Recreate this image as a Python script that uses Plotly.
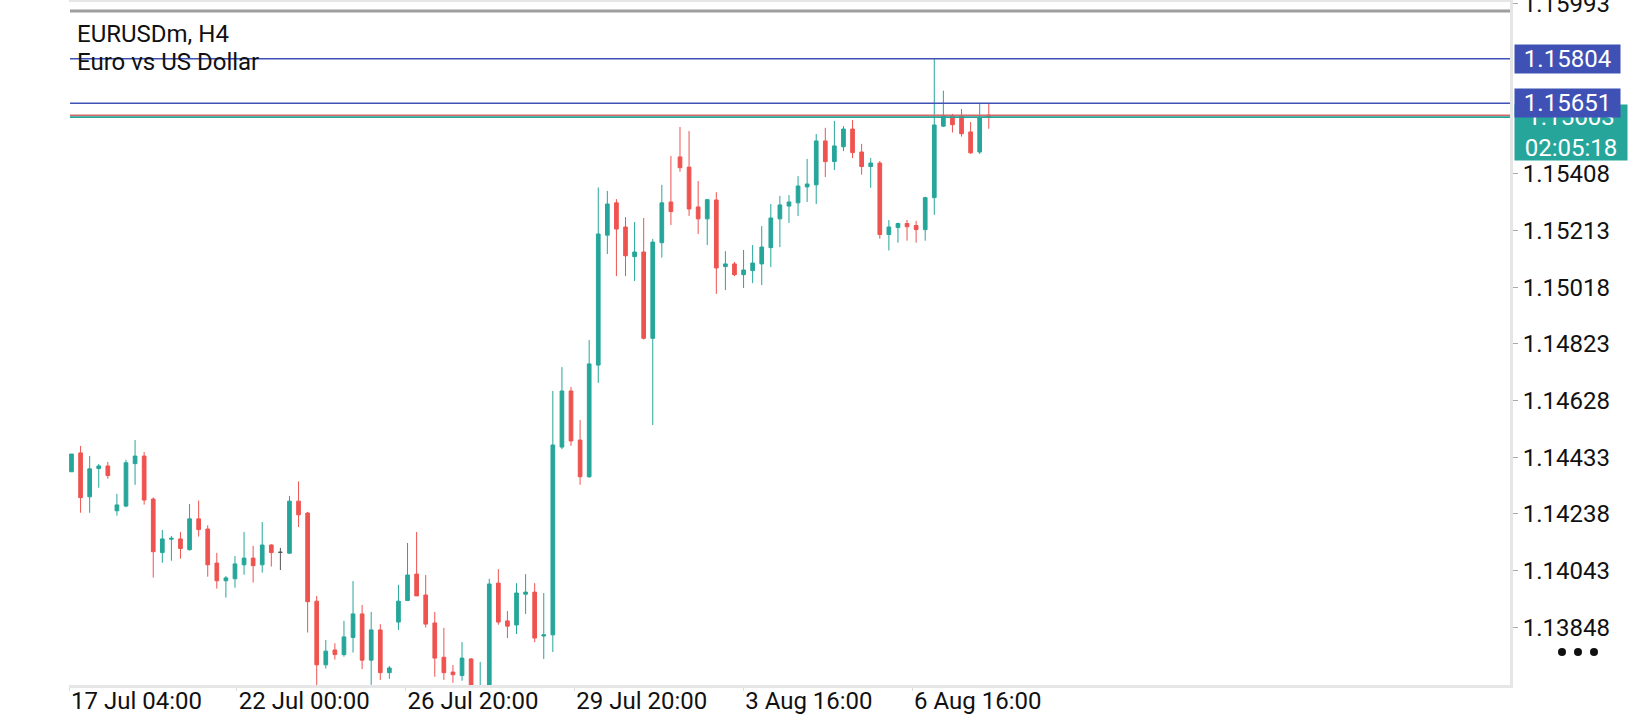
import plotly.graph_objects as go

# ---------------- data ----------------
opens = [1.14383, 1.14448, 1.14297, 1.14394, 1.14403, 1.14249, 1.14265, 1.14411, 1.14437, 1.14289,
         1.14105, 1.14151, 1.14152, 1.14115, 1.14221, 1.14186, 1.14069, 1.14008, 1.14015, 1.14063,
         1.14086, 1.14063, 1.14131, 1.14106, 1.14103, 1.14282, 1.14241, 1.13938, 1.13719, 1.13770,
         1.13754, 1.13813, 1.13894, 1.13735, 1.13839, 1.13692, 1.13866, 1.13940, 1.14031, 1.13959,
         1.13863, 1.13745, 1.13694, 1.13682, 1.13739, 1.13600, 1.13630, 1.14000, 1.13870, 1.13856,
         1.13962, 1.13969, 1.13818, 1.13822, 1.14468, 1.14661, 1.14492, 1.14366, 1.14750, 1.15197,
         1.15308, 1.15225, 1.15123, 1.15139, 1.14842, 1.15171, 1.15311, 1.15466, 1.15431, 1.15294,
         1.15253, 1.15318, 1.15089, 1.15098, 1.15061, 1.15075, 1.15098, 1.15154, 1.15253, 1.15297,
         1.15308, 1.15363, 1.15370, 1.15521, 1.15450, 1.15501, 1.15562, 1.15483, 1.15433, 1.15445,
         1.15199, 1.15223, 1.15237, 1.15230, 1.15216, 1.15326, 1.15572, 1.15609, 1.15609, 1.15552,
         1.15483, 1.15610]
highs = [1.14444, 1.14472, 1.14437, 1.14410, 1.14417, 1.14307, 1.14424, 1.14492, 1.14451, 1.14295,
         1.14183, 1.14162, 1.14176, 1.14272, 1.14284, 1.14199, 1.14104, 1.14024, 1.14093, 1.14176,
         1.14128, 1.14210, 1.14134, 1.14121, 1.14300, 1.14350, 1.14245, 1.13956, 1.13804, 1.13793,
         1.13870, 1.14007, 1.13925, 1.13901, 1.13859, 1.13715, 1.13994, 1.14138, 1.14176, 1.14028,
         1.13901, 1.13846, 1.13718, 1.13797, 1.13742, 1.13729, 1.14015, 1.14048, 1.13904, 1.14000,
         1.14031, 1.14000, 1.13966, 1.14661, 1.14743, 1.14675, 1.14561, 1.14836, 1.15361, 1.15349,
         1.15321, 1.15259, 1.15242, 1.15256, 1.15184, 1.15370, 1.15469, 1.15569, 1.15555, 1.15383,
         1.15322, 1.15345, 1.15142, 1.15105, 1.15146, 1.15163, 1.15228, 1.15304, 1.15332, 1.15335,
         1.15400, 1.15459, 1.15545, 1.15566, 1.15590, 1.15572, 1.15593, 1.15511, 1.15462, 1.15452,
         1.15249, 1.15240, 1.15249, 1.15246, 1.15329, 1.15803, 1.15694, 1.15614, 1.15631, 1.15586,
         1.15652, 1.15652]
lows = [1.14383, 1.14242, 1.14242, 1.14328, 1.14359, 1.14232, 1.14261, 1.14338, 1.14270, 1.14019,
        1.14070, 1.14077, 1.14084, 1.14112, 1.14160, 1.14022, 1.13981, 1.13950, 1.13984, 1.14029,
        1.14002, 1.14036, 1.14057, 1.14045, 1.14100, 1.14193, 1.13830, 1.13640, 1.13706, 1.13737,
        1.13747, 1.13761, 1.13704, 1.13650, 1.13667, 1.13671, 1.13839, 1.13940, 1.13956, 1.13847,
        1.13678, 1.13667, 1.13657, 1.13664, 1.13590, 1.13580, 1.13610, 1.13857, 1.13811, 1.13825,
        1.13894, 1.13797, 1.13739, 1.13763, 1.14461, 1.14472, 1.14338, 1.14362, 1.14689, 1.15132,
        1.15056, 1.15056, 1.15039, 1.14838, 1.14544, 1.15120, 1.15232, 1.15415, 1.15263, 1.15201,
        1.15163, 1.14995, 1.15008, 1.15056, 1.15015, 1.15032, 1.15025, 1.15087, 1.15156, 1.15239,
        1.15263, 1.15311, 1.15304, 1.15397, 1.15421, 1.15486, 1.15462, 1.15405, 1.15360, 1.15185,
        1.15144, 1.15171, 1.15178, 1.15171, 1.15178, 1.15267, 1.15569, 1.15550, 1.15536, 1.15477,
        1.15476, 1.15563]
closes = [1.14444, 1.14294, 1.14393, 1.14403, 1.14370, 1.14269, 1.14414, 1.14437, 1.14286, 1.14108,
          1.14152, 1.14154, 1.14119, 1.14221, 1.14184, 1.14063, 1.14008, 1.14018, 1.14066, 1.14086,
          1.14060, 1.14131, 1.14105, 1.14106, 1.14282, 1.14235, 1.13936, 1.13719, 1.13766, 1.13754,
          1.13815, 1.13894, 1.13735, 1.13839, 1.13692, 1.13708, 1.13938, 1.14028, 1.13956, 1.13859,
          1.13742, 1.13692, 1.13685, 1.13742, 1.13610, 1.13630, 1.13997, 1.13866, 1.13852, 1.13966,
          1.13969, 1.13811, 1.13822, 1.14475, 1.14661, 1.14489, 1.14366, 1.14754, 1.15201, 1.15304,
          1.15218, 1.15126, 1.15139, 1.14842, 1.15173, 1.15308, 1.15278, 1.15429, 1.15287, 1.15253,
          1.15319, 1.15084, 1.15098, 1.15061, 1.15077, 1.15101, 1.15156, 1.15256, 1.15301, 1.15311,
          1.15366, 1.15373, 1.15521, 1.15450, 1.15504, 1.15562, 1.15481, 1.15433, 1.15445, 1.15199,
          1.15225, 1.15237, 1.15226, 1.15216, 1.15326, 1.15576, 1.15609, 1.15577, 1.15546, 1.15480,
          1.15601, 1.15603]
bars = list(range(len(opens)))
doji_bars = [23]

tick_positions = [-0.27, 18.20, 36.79, 55.37, 73.96, 92.55]
tick_labels = ["17 Jul 04:00", "22 Jul 00:00", "26 Jul 20:00", "29 Jul 20:00",
               "3 Aug 16:00", "6 Aug 16:00"]
price_ticks = [1.13848, 1.14043, 1.14238, 1.14433, 1.14628, 1.14823,
               1.15018, 1.15213, 1.15408, 1.15993]
level_lines = [1.15804, 1.15651]
bid_price = 1.15603
ask_price = 1.15609
timer_text = "02:05:18"
symbol_text = "EURUSDm, H4"
description_text = "Euro vs US Dollar"

# ---------------- styles ----------------
GREEN = "#26A69A"
RED = "#EF5350"
BLUE = "#3F51B5"
DOJI = "#555555"
AXIS = "#E6E6E6"
FONT = "Roboto"

W, H = 1640, 720
ML, MR, MT, MB = 69, 130, 2, 35
PW = W - ML - MR
PH = H - MT - MB


def px_x(px):
    return (px - ML) / PW


def px_y(py):
    return (H - MB - py) / PH


main_idx = [i for i in bars if i not in doji_bars]

fig = go.Figure()
fig.add_trace(go.Candlestick(
    x=main_idx,
    open=[opens[i] for i in main_idx],
    high=[highs[i] for i in main_idx],
    low=[lows[i] for i in main_idx],
    close=[closes[i] for i in main_idx],
    increasing=dict(line=dict(color=GREEN, width=1), fillcolor=GREEN),
    decreasing=dict(line=dict(color=RED, width=1), fillcolor=RED),
    whiskerwidth=0, hoverinfo="skip", showlegend=False,
))
fig.add_trace(go.Candlestick(
    x=doji_bars,
    open=[opens[i] for i in doji_bars],
    high=[highs[i] for i in doji_bars],
    low=[lows[i] for i in doji_bars],
    close=[closes[i] for i in doji_bars],
    increasing=dict(line=dict(color=DOJI, width=1), fillcolor=DOJI),
    decreasing=dict(line=dict(color=DOJI, width=1), fillcolor=DOJI),
    whiskerwidth=0, hoverinfo="skip", showlegend=False,
))

shapes = []
# top gray frame line
shapes.append(dict(type="line", xref="paper", yref="paper", x0=px_x(70), x1=1,
                   y0=px_y(11), y1=px_y(11), line=dict(color="#9E9E9E", width=3)))
for lvl in level_lines:
    shapes.append(dict(type="line", xref="paper", yref="y", x0=px_x(70), x1=1,
                       y0=lvl, y1=lvl, line=dict(color=BLUE, width=1.5)))
shapes.append(dict(type="line", xref="paper", yref="y", x0=px_x(70), x1=1,
                   y0=ask_price, y1=ask_price, line=dict(color="#D46A6A", width=1.8)))
shapes.append(dict(type="line", xref="paper", yref="y", x0=px_x(70), x1=1,
                   y0=bid_price, y1=bid_price, line=dict(color=GREEN, width=1.8)))
# menu dots
for cx in (1562, 1578, 1594):
    shapes.append(dict(type="circle", xref="paper", yref="paper",
                       xsizemode="pixel", ysizemode="pixel",
                       xanchor=px_x(cx), yanchor=px_y(652),
                       x0=-4, x1=4, y0=-4, y1=4,
                       fillcolor="#111111", line=dict(width=0)))

annotations = [
    dict(text=symbol_text, xref="paper", yref="paper", x=px_x(75), y=px_y(34),
         xanchor="left", yanchor="middle", showarrow=False,
         font=dict(family=FONT, size=24, color="#111111")),
    dict(text=description_text, xref="paper", yref="paper", x=px_x(75), y=px_y(62),
         xanchor="left", yanchor="middle", showarrow=False,
         font=dict(family=FONT, size=24, color="#111111")),
    dict(text=f"{bid_price:.5f}<br>{timer_text}", xref="paper", yref="paper",
         x=px_x(1514), y=px_y(104), xanchor="left", yanchor="top", showarrow=False,
         width=108, height=51, borderpad=2, bgcolor=GREEN, align="center",
         font=dict(family=FONT, size=24, color="white")),
]
for lvl in level_lines:
    annotations.append(dict(text=f"{lvl:.5f}", xref="paper", yref="y",
                            x=px_x(1514), y=lvl, xanchor="left", yanchor="middle",
                            showarrow=False, width=101, height=24, borderpad=2,
                            bgcolor=BLUE, align="center",
                            font=dict(family=FONT, size=24, color="white")))

x0 = -0.275
bar_px = 9.082
fig.update_layout(
    width=W, height=H,
    margin=dict(l=ML, r=MR, t=MT, b=MB, pad=0, autoexpand=False),
    paper_bgcolor="white", plot_bgcolor="white",
    font=dict(family=FONT, size=24, color="#111111"),
    showlegend=False,
    boxgap=0.42,
    shapes=shapes,
    annotations=annotations,
    xaxis=dict(
        range=[x0, x0 + PW / bar_px],
        rangeslider=dict(visible=False),
        automargin=False,
        showgrid=False, zeroline=False,
        showline=True, linecolor=AXIS, linewidth=3, mirror=True,
        ticks="outside", ticklen=3, tickcolor="#DDDDDD", tickwidth=1,
        tickvals=tick_positions, ticktext=tick_labels,
        ticklabelposition="outside right",
        ticklabelstandoff=-8,
        tickfont=dict(family=FONT, size=24, color="#111111"),
    ),
    yaxis=dict(
        side="right",
        range=[1.136495, 1.159990],
        automargin=False,
        showgrid=False, zeroline=False,
        showline=True, linecolor=AXIS, linewidth=3,
        ticks="outside", ticklen=5, tickcolor="#AAAAAA", tickwidth=1,
        tickvals=price_ticks, ticktext=[f"{v:.5f}" for v in price_ticks],
        ticklabeloverflow="allow",
        tickfont=dict(family=FONT, size=24, color="#111111"),
    ),
)

fig.write_html("out.html", config={"displayModeBar": False},
               post_script="document.body.style.margin='0';document.body.style.overflow='hidden';")
